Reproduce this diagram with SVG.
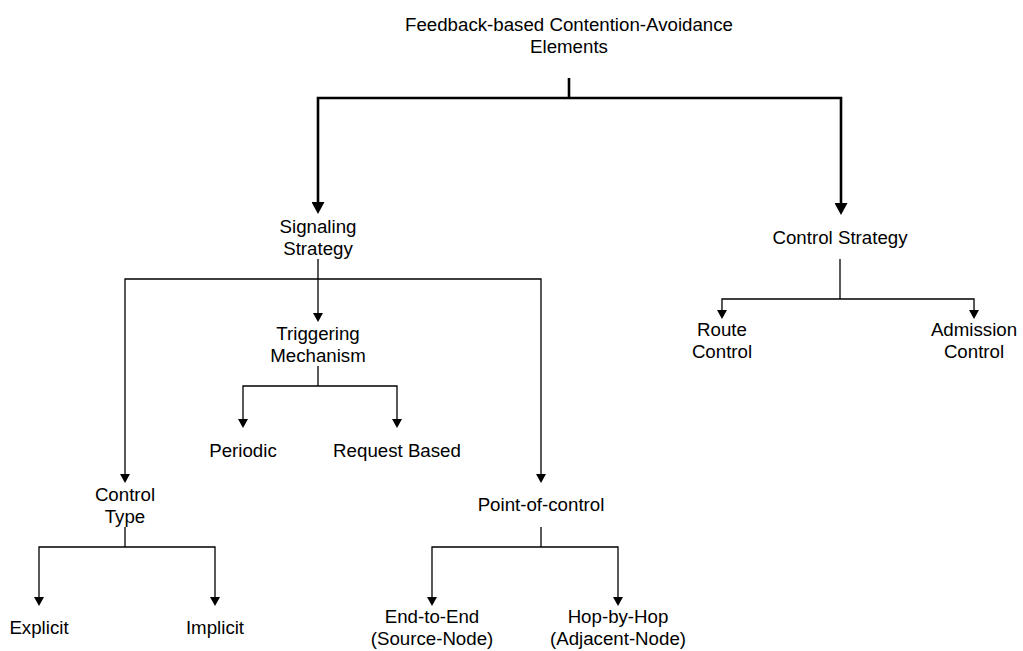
<svg xmlns="http://www.w3.org/2000/svg" width="1023" height="651" viewBox="0 0 1023 651">
  <style>
    text { font-family: "Liberation Sans", Arial, sans-serif; font-size: 18.7px; fill: #000; text-anchor: middle; }
    .thick { fill: none; stroke: #000; stroke-width: 2.6; stroke-linejoin: miter; }
    .thin { fill: none; stroke: #000; stroke-width: 1.3; stroke-linejoin: miter; }
  </style>
  <defs>
    <marker id="arrowBig" markerUnits="userSpaceOnUse" viewBox="0 0 12 13" markerWidth="12" markerHeight="13" refX="0" refY="6.5" orient="auto">
      <path d="M0,0 L12,6.5 L0,13 z" fill="#000"/>
    </marker>
    <marker id="arrowSmall" markerUnits="userSpaceOnUse" viewBox="0 0 9 10" markerWidth="9" markerHeight="10" refX="0" refY="5" orient="auto">
      <path d="M0,0 L9,5 L0,10 z" fill="#000"/>
    </marker>
  </defs>

  <g id="connectors">
    <!-- root split -->
    <path class="thick" d="M569,78 V98"/>
    <path class="thick" d="M569,98 H318 V202" marker-end="url(#arrowBig)"/>
    <path class="thick" d="M569,98 H841 V203" marker-end="url(#arrowBig)"/>
    <!-- signaling strategy -->
    <path class="thin" d="M318,259 V279"/>
    <path class="thin" d="M318,279 H125 V474" marker-end="url(#arrowSmall)"/>
    <path class="thin" d="M318,279 V313" marker-end="url(#arrowSmall)"/>
    <path class="thin" d="M318,279 H541 V474" marker-end="url(#arrowSmall)"/>
    <!-- triggering mechanism -->
    <path class="thin" d="M318,366 V386"/>
    <path class="thin" d="M318,386 H243 V419" marker-end="url(#arrowSmall)"/>
    <path class="thin" d="M318,386 H397 V419" marker-end="url(#arrowSmall)"/>
    <!-- control strategy -->
    <path class="thin" d="M840,259 V299"/>
    <path class="thin" d="M840,299 H722 V310" marker-end="url(#arrowSmall)"/>
    <path class="thin" d="M840,299 H974 V310" marker-end="url(#arrowSmall)"/>
    <!-- control type -->
    <path class="thin" d="M125,527 V547"/>
    <path class="thin" d="M125,547 H39 V597" marker-end="url(#arrowSmall)"/>
    <path class="thin" d="M125,547 H215 V597" marker-end="url(#arrowSmall)"/>
    <!-- point of control -->
    <path class="thin" d="M541,527 V547"/>
    <path class="thin" d="M541,547 H432 V597" marker-end="url(#arrowSmall)"/>
    <path class="thin" d="M541,547 H618 V597" marker-end="url(#arrowSmall)"/>
  </g>

  <g id="root"><text x="569" y="30.5">Feedback-based Contention-Avoidance</text><text x="569" y="52.5">Elements</text></g>
  <g id="signaling"><text x="318" y="233">Signaling</text><text x="318" y="255">Strategy</text></g>
  <g id="control-strategy"><text x="840" y="243.5">Control Strategy</text></g>
  <g id="route-control"><text x="722" y="336">Route</text><text x="722" y="358">Control</text></g>
  <g id="admission-control"><text x="974" y="336">Admission</text><text x="974" y="358">Control</text></g>
  <g id="triggering"><text x="318" y="339.5">Triggering</text><text x="318" y="361.5">Mechanism</text></g>
  <g id="periodic"><text x="243" y="457">Periodic</text></g>
  <g id="request-based"><text x="397" y="457">Request Based</text></g>
  <g id="control-type"><text x="125" y="500.5">Control</text><text x="125" y="522.5">Type</text></g>
  <g id="explicit"><text x="39" y="634">Explicit</text></g>
  <g id="implicit"><text x="215" y="634">Implicit</text></g>
  <g id="point-of-control"><text x="541" y="511">Point-of-control</text></g>
  <g id="end-to-end"><text x="432" y="622.5">End-to-End</text><text x="432" y="644.5">(Source-Node)</text></g>
  <g id="hop-by-hop"><text x="618" y="622.5">Hop-by-Hop</text><text x="618" y="644.5">(Adjacent-Node)</text></g>
</svg>
